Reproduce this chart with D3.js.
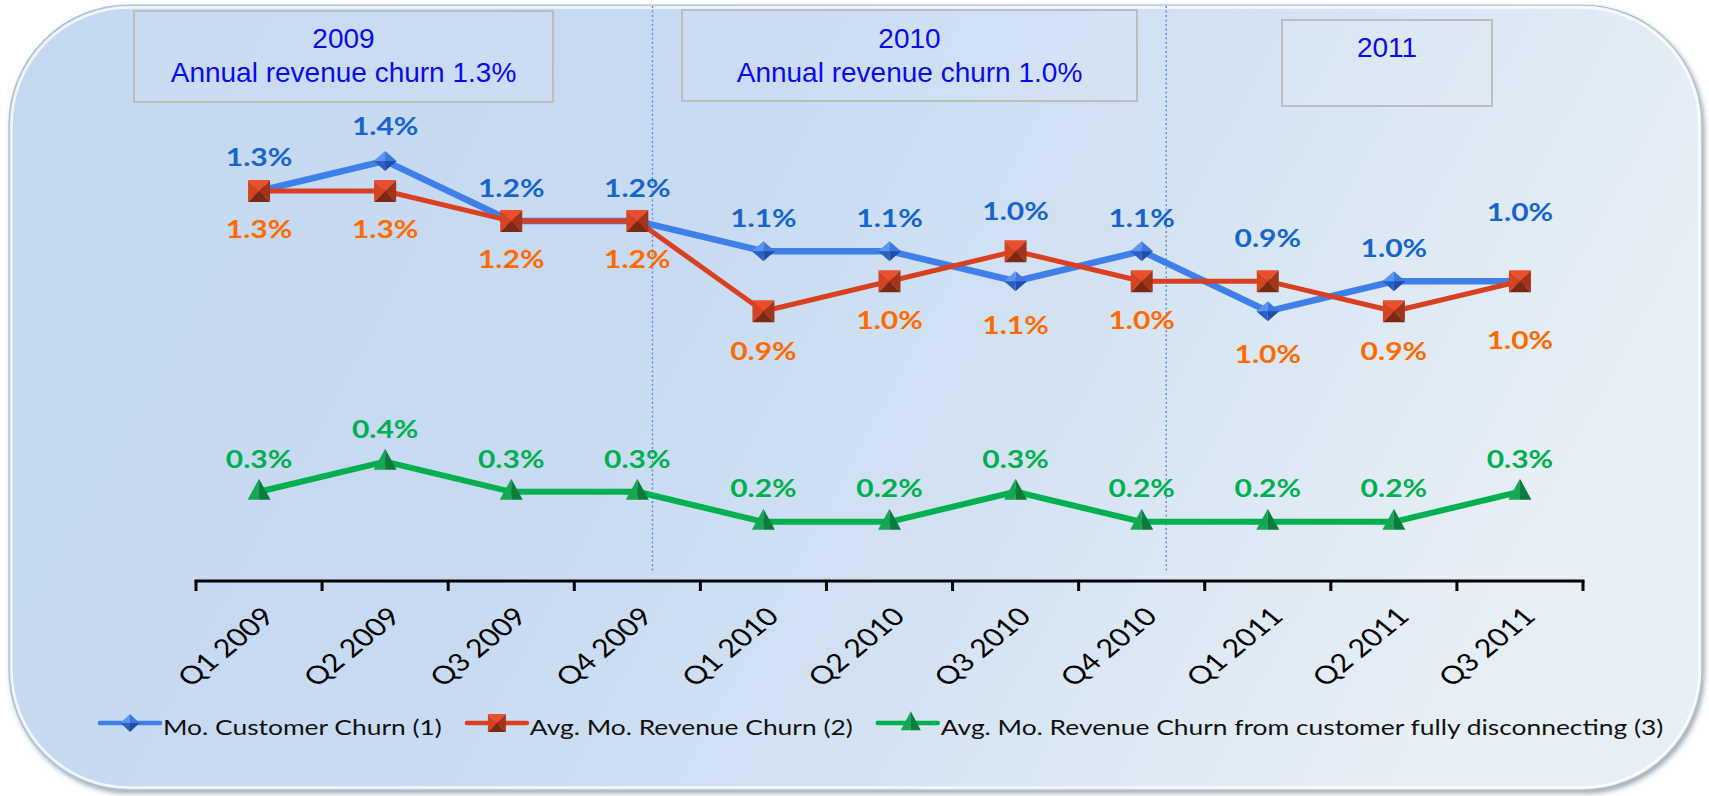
<!DOCTYPE html>
<html><head><meta charset="utf-8">
<script src="https://cdn.jsdelivr.net/npm/d3@7"></script>
<style>html,body{margin:0;padding:0;background:#ffffff;} svg{display:block}</style>
</head><body>
<svg id="chart" width="1709" height="796"></svg>
<script>
// ---------------- DATA ----------------
const quarters = ["Q1 2009","Q2 2009","Q3 2009","Q4 2009","Q1 2010","Q2 2010","Q3 2010","Q4 2010","Q1 2011","Q2 2011","Q3 2011"];
const customerChurn   = [1.3,1.4,1.2,1.2,1.1,1.1,1.0,1.1,0.9,1.0,1.0];
const revenueChurn    = [1.3,1.3,1.2,1.2,0.9,1.0,1.1,1.0,1.0,0.9,1.0];
const disconnectChurn = [0.3,0.4,0.3,0.3,0.2,0.2,0.3,0.2,0.2,0.2,0.3];
const customerLabels   = ["1.3%","1.4%","1.2%","1.2%","1.1%","1.1%","1.0%","1.1%","0.9%","1.0%","1.0%"];
const revenueLabels    = ["1.3%","1.3%","1.2%","1.2%","0.9%","1.0%","1.1%","1.0%","1.0%","0.9%","1.0%"];
const disconnectLabels = ["0.3%","0.4%","0.3%","0.3%","0.2%","0.2%","0.3%","0.2%","0.2%","0.2%","0.3%"];
const seriesNames = ["Mo. Customer Churn (1)","Avg. Mo. Revenue Churn (2)","Avg. Mo. Revenue Churn from customer fully disconnecting (3)"];
const yearTitles = ["2009","2010","2011"];
const yearSubtitles = ["Annual revenue churn 1.3%","Annual revenue churn 1.0%",""];
const yearDividersAfter = ["Q4 2009","Q4 2010"];

// ---------------- LAYOUT / STYLE ----------------
const W = 1709, H = 796;
const svg = d3.select("#chart");
const defs = svg.append("defs");

const bgGrad = defs.append("linearGradient").attr("id","bg").attr("x1","0").attr("y1","0").attr("x2","1").attr("y2","0.25");
[[0,"#c4d8f1"],[0.45,"#c8dbf2"],[0.7,"#d4e3f3"],[1,"#e7eff6"]].forEach(s=>bgGrad.append("stop").attr("offset",s[0]).attr("stop-color",s[1]));
const shadow = defs.append("filter").attr("id","shadow").attr("x","-5%").attr("y","-5%").attr("width","110%").attr("height","110%");
shadow.append("feDropShadow").attr("dx",2).attr("dy",3).attr("stdDeviation",2.5).attr("flood-color","#5a6470").attr("flood-opacity",0.55);

// background panel
svg.append("rect").attr("x",9).attr("y",5).attr("width",1693).attr("height",785)
  .attr("rx",120).attr("ry",120).attr("fill","url(#bg)").attr("stroke","#a9bdd0").attr("stroke-width",1.2)
  .attr("filter","url(#shadow)");
svg.append("rect").attr("x",11.5).attr("y",7.5).attr("width",1688).attr("height",780)
  .attr("rx",118).attr("ry",118).attr("fill","none").attr("stroke","#ffffff").attr("stroke-opacity",0.75).attr("stroke-width",2.5);

// scales
const x = d3.scaleBand().domain(quarters).range([196,1583]).padding(0);
const y = d3.scaleLinear().domain([0,1.4]).range([582,160.9]);
const cx = q => x(q) + x.bandwidth()/2;

// year boxes (annotation layout)
const boxLayout = [
  {x0:134, x1:553, y0:11, y1:102, tY:48, sY:82},
  {x0:682, x1:1137, y0:10, y1:101, tY:48, sY:82},
  {x0:1282, x1:1492, y0:20, y1:106, tY:57, sY:90}
];
const boxes = svg.append("g");
boxLayout.forEach((b,i)=>{
  boxes.append("rect").attr("x",b.x0).attr("y",b.y0).attr("width",b.x1-b.x0).attr("height",b.y1-b.y0)
    .attr("fill","#ffffff").attr("fill-opacity",0.08).attr("stroke","#bdbdbd").attr("stroke-width",2);
  const mx=(b.x0+b.x1)/2;
  boxes.append("text").attr("x",mx).attr("y",b.tY).attr("text-anchor","middle")
    .attr("font-family","Liberation Sans, Arial, sans-serif").attr("font-size",28).attr("fill","#0a0af0").text(yearTitles[i]);
  if (yearSubtitles[i]) boxes.append("text").attr("x",mx).attr("y",b.sY).attr("text-anchor","middle")
    .attr("font-family","Liberation Sans, Arial, sans-serif").attr("font-size",28).attr("fill","#0a0af0").text(yearSubtitles[i]);
});

// dotted dividers
const dividerShift = [0.12, 0.195];
yearDividersAfter.forEach((q,i)=>{
  const xx = cx(q) + x.bandwidth()*dividerShift[i];
  svg.append("line").attr("x1",xx).attr("x2",xx).attr("y1",6).attr("y2",572)
    .attr("stroke","#5b8bd2").attr("stroke-width",1.4).attr("stroke-dasharray","2,2.5");
});

// x axis
const axisY = 581;
const axisG = svg.append("g");
const x0 = x.range()[0], x1 = x.range()[1];
axisG.append("line").attr("x1",x0-1.5).attr("x2",x1+1.5).attr("y1",axisY).attr("y2",axisY).attr("stroke","#000").attr("stroke-width",3);
const bounds = quarters.map(q=>x(q)).concat([x1]);
axisG.selectAll("line.tk").data(bounds).join("line").attr("class","tk")
  .attr("x1",d=>d).attr("x2",d=>d).attr("y1",axisY).attr("y2",axisY+10).attr("stroke","#000").attr("stroke-width",3);

const labelSx = 1.22;
const tickG = svg.append("g").attr("transform",`translate(0,${axisY})`)
  .call(d3.axisBottom(x).tickSize(0).tickPadding(0));
tickG.select(".domain").remove();
tickG.selectAll("text")
  .attr("font-family","Lato, 'Open Sans', sans-serif").attr("font-size",25).attr("fill","#000")
  .attr("text-anchor","end").attr("dy",null).attr("y",null)
  .attr("transform",`translate(17,37) scale(${labelSx},1) rotate(-45)`);

// markers
function diamond(g, px, py, w, h){
  const T=[px,py-h/2],R=[px+w/2,py],B=[px,py+h/2],L=[px-w/2,py],C=[px,py];
  [[L,T,"#5b95f3"],[T,R,"#3d78e0"],[R,B,"#1e4ea9"],[B,L,"#2b5fc2"]].forEach(t=>
    g.append("path").attr("d",`M${t[0]}L${t[1]}L${C}Z`).attr("fill",t[2]));
}
function square(g, px, py, s){
  const h=s/2, TL=[px-h,py-h],TR=[px+h,py-h],BR=[px+h,py+h],BL=[px-h,py+h],C=[px,py];
  [[TL,TR,"#ea4e2c"],[TL,BL,"#d6431f"],[TR,BR,"#a3341a"],[BL,BR,"#7c2914"]].forEach(t=>
    g.append("path").attr("d",`M${t[0]}L${t[1]}L${C}Z`).attr("fill",t[2]));
}
function triangle(g, px, py, w, h){
  const A=[px,py-h*0.62],BL=[px-w/2,py+h*0.38],BR=[px+w/2,py+h*0.38],M=[px,py+h*0.38];
  g.append("path").attr("d",`M${A}L${BL}L${M}Z`).attr("fill","#17a653");
  g.append("path").attr("d",`M${A}L${M}L${BR}Z`).attr("fill","#0b7c3b");
}

const series = [
  {vals:customerChurn, labels:customerLabels, color:"#3f7fea", width:6.5, lab:"#1565cc", marker:(g,a,b)=>diamond(g,a,b,23,20)},
  {vals:revenueChurn, labels:revenueLabels, color:"#d8401f", width:5, lab:"#ff6a00", marker:(g,a,b)=>square(g,a,b,22)},
  {vals:disconnectChurn, labels:disconnectLabels, color:"#00b050", width:6, lab:"#00b050", marker:(g,a,b)=>triangle(g,a,b,23,21)}
];
// label offsets (px from the point, centre of text)
const labelOffsets = [
  [-34,-35,-34,-34,-34,-34,-71,-34,-74,-34,-70],
  [38,38,37,37,39,38,73,38,72,39,58],
  [-33,-33,-33,-33,-34,-34,-33,-34,-34,-34,-33]
];
const line = d3.line().x((d,i)=>cx(quarters[i])).y(d=>y(d));
const plot = svg.append("g");
series.forEach(s=>{
  plot.append("path").datum(s.vals).attr("d",line).attr("fill","none")
    .attr("stroke",s.color).attr("stroke-width",s.width).attr("stroke-linejoin","round");
  const mg = plot.append("g");
  s.vals.forEach((v,i)=>s.marker(mg,cx(quarters[i]),y(v)));
});
const dataSx = 1.2;
series.forEach((s,si)=>{
  const lg = svg.append("g");
  s.vals.forEach((v,i)=>{
    lg.append("text")
      .attr("transform",`translate(${cx(quarters[i])},${y(v)+labelOffsets[si][i]}) scale(${dataSx},1)`)
      .attr("text-anchor","middle").attr("dominant-baseline","central")
      .attr("font-family","Lato, sans-serif").attr("font-weight","bold").attr("font-size",25)
      .attr("fill",s.lab).text(s.labels[i]);
  });
});

// legend
const legSx = 1.2;
const legY = 723;
let lx = 100;
const legG = svg.append("g");
series.forEach((s,i)=>{
  legG.append("line").attr("x1",lx).attr("x2",lx+60).attr("y1",legY).attr("y2",legY)
    .attr("stroke",s.color).attr("stroke-width",4.5).attr("stroke-linecap","round");
  if(i===0) diamond(legG,lx+30,legY,19,18);
  if(i===1) square(legG,lx+30,legY,18);
  if(i===2) triangle(legG,lx+33,legY,20,19);
  const t = legG.append("text").attr("transform",`translate(${lx+63},${legY+12}) scale(${legSx},1)`)
    .attr("font-family","Lato, sans-serif").attr("font-size",22).attr("fill","#111").text(seriesNames[i]);
  const w = t.node().getComputedTextLength()*legSx;
  lx = lx + 63 + w + 25;
});
</script>
</body></html>
